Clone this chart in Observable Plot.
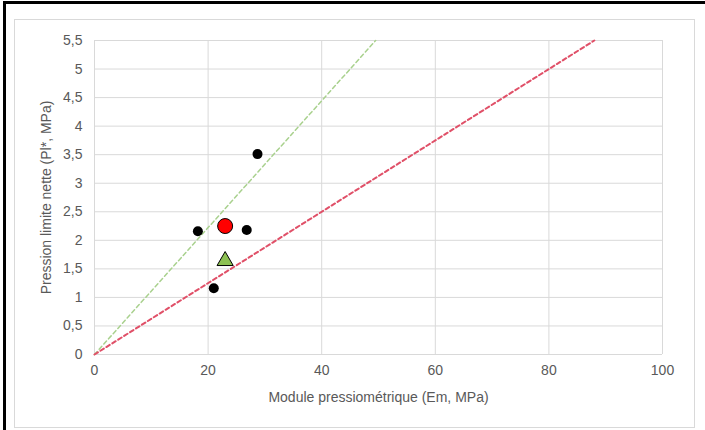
<!DOCTYPE html>
<html>
<head>
<meta charset="utf-8">
<script src="https://cdn.jsdelivr.net/npm/d3@7"></script>
<script src="https://cdn.jsdelivr.net/npm/@observablehq/plot@0.6"></script>
<style>
  html, body { margin: 0; padding: 0; background: #fff; }
  #wrap { position: relative; width: 705px; height: 430px; overflow: hidden; }
  #outer { position: absolute; left: 3px; top: 1px; width: 702px; height: 429px; border-top: 3px solid #000; border-left: 3px solid #000; box-sizing: border-box; }
  #inner { position: absolute; left: 14px; top: 19px; width: 681px; height: 409px; border: 1px solid #d9d9d9; box-sizing: border-box; }
  #chart { position: absolute; left: 0; top: 0; }
</style>
</head>
<body>
<div id="wrap">
  <div id="outer"></div>
  <div id="inner"></div>
  <div id="chart"></div>
</div>
<script>
// Black points (Em, Pl*)
const pointsEm = [18.2, 26.8, 28.7, 21.0];
const pointsPl = [2.16, 2.18, 3.51, 1.16];
// Red circle (mean)
const meanEm = [23.0];
const meanPl = [2.25];
// Green triangle
const triEm = [23.0];
const triPl = [1.64];
// Reference lines Em/Pl* = 9 (green) and 16 (red)
const greenLineEm = [0, 49.5];
const greenLinePl = [0, 5.5];
const redLineEm = [0, 88];
const redLinePl = [0, 5.5];
// Ticks
const xTicks = [0, 20, 40, 60, 80, 100];
const yTicks = [0, 0.5, 1, 1.5, 2, 2.5, 3, 3.5, 4, 4.5, 5, 5.5];

const fmt = d => String(d).replace(".", ",");
const pts = pointsEm.map((x, i) => ({x, y: pointsPl[i]}));
const mean = meanEm.map((x, i) => ({x, y: meanPl[i]}));
const tri = triEm.map((x, i) => ({x, y: triPl[i]}));
const gLine = greenLineEm.map((x, i) => ({x, y: greenLinePl[i]}));
const rLine = redLineEm.map((x, i) => ({x, y: redLinePl[i]}));

const chart = Plot.plot({
  width: 705,
  height: 430,
  marginLeft: 94,
  marginRight: 43,
  marginTop: 40,
  marginBottom: 76,
  style: {fontFamily: "'Liberation Sans', Arial, sans-serif", fontSize: "14px", color: "#595959", background: "transparent"},
  x: {domain: [0, 100], ticks: xTicks, tickSize: 0, tickPadding: 11, tickFormat: fmt,
      label: "Module pressiométrique (Em, MPa)", labelAnchor: "center", labelArrow: "none", labelOffset: 47},
  y: {domain: [0, 5.5], ticks: yTicks, tickSize: 0, tickPadding: 12, tickFormat: fmt,
      label: "Pression limite nette (Pl*, MPa)", labelAnchor: "center", labelArrow: "none", labelOffset: 53},
  marks: [
    Plot.gridX(xTicks, {stroke: "#d9d9d9", strokeOpacity: 1, strokeWidth: 1}),
    Plot.gridY(yTicks, {stroke: "#d9d9d9", strokeOpacity: 1, strokeWidth: 1}),
    Plot.line(gLine, {x: "x", y: "y", stroke: "#a9d18e", strokeWidth: 1.5, strokeDasharray: "4,3"}),
    Plot.line(rLine, {x: "x", y: "y", stroke: "#e05068", strokeWidth: 2, strokeDasharray: "4,3"}),
    Plot.dot(pts, {x: "x", y: "y", r: 5, fill: "#000", stroke: "none"}),
    Plot.dot(mean, {x: "x", y: "y", r: 7.5, fill: "#ff0000", stroke: "#000", strokeWidth: 1}),
    Plot.dot(tri, {x: "x", y: "y", r: 6, symbol: "triangle", fill: "#8dc153", stroke: "#000", strokeWidth: 1})
  ]
});
document.getElementById("chart").appendChild(chart);
</script>
</body>
</html>
